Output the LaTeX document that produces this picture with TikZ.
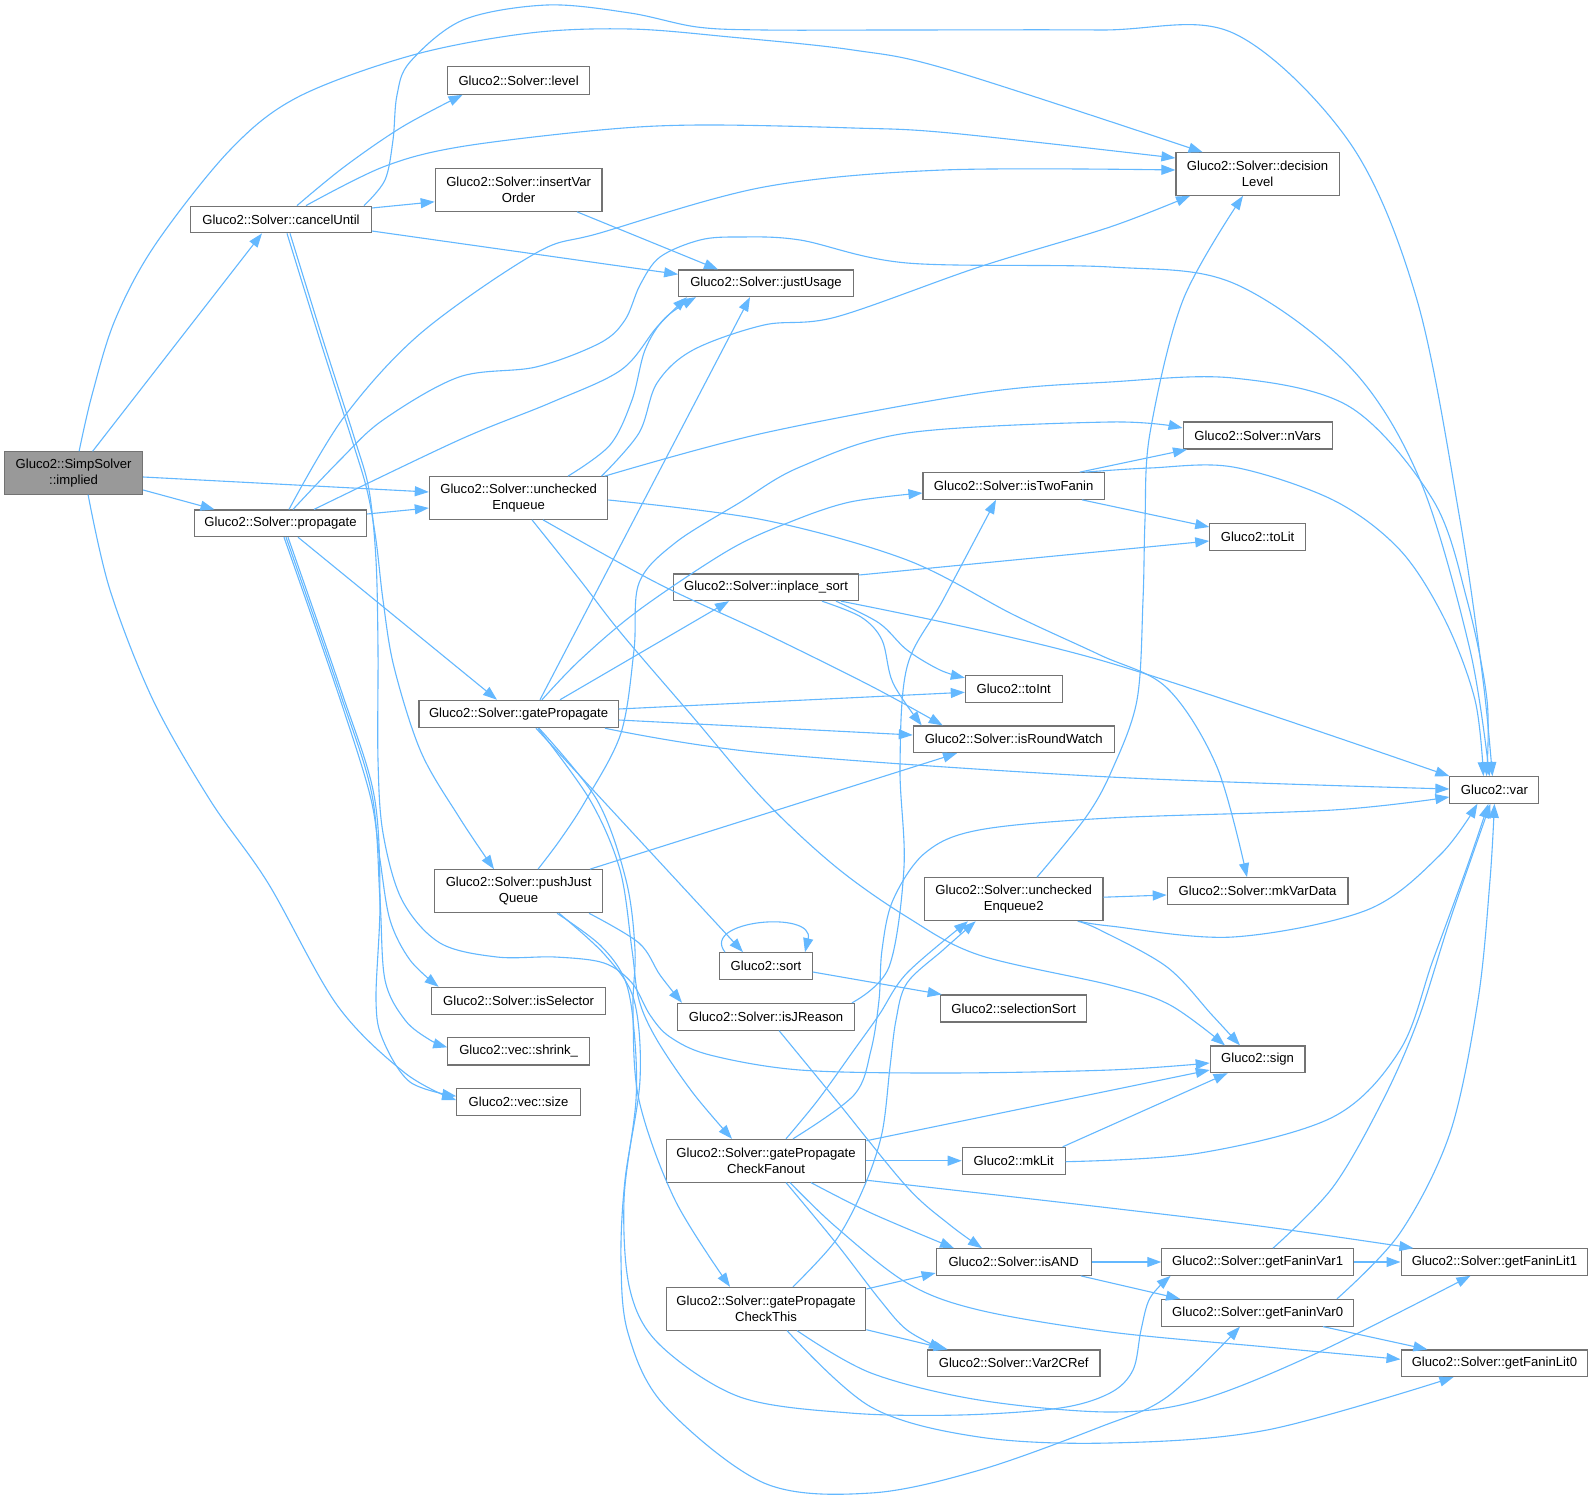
\documentclass[tikz,border=0pt]{standalone}
\usepackage{fontspec}
\setmainfont{Liberation Sans}
\usetikzlibrary{arrows.meta}
\definecolor{edgeblue}{HTML}{63B8FF}
\definecolor{boxgray}{HTML}{737373}
\definecolor{implgray}{HTML}{999999}
\begin{document}
\begin{tikzpicture}[x=1pt,y=-1pt,
  box/.style={draw=boxgray, line width=1.1pt, fill=white, inner sep=0pt, text=black,
    font=\fontsize{13.1}{16}\selectfont, align=center},
  edge/.style={draw=edgeblue, line width=1.1pt, -{Triangle[length=14pt,width=10pt]}, fill=none},
  sm/.style={smooth, tension=0.55}]
\fill[white] (0,0) rectangle (1593,1501);
\useasboundingbox (0,0) rectangle (1593,1501);
% nodes
\node[box, fill=implgray, minimum width=138, minimum height=42.3] (nImp) at (73.6,473) {Gluco2::SimpSolver\\::implied};
\node[box, minimum width=180.6, minimum height=26.7] (nCU) at (281,219.5) {Gluco2::Solver::cancelUntil};
\node[box, minimum width=142.3, minimum height=27.6] (nLev) at (518.6,80.5) {Gluco2::Solver::level};
\node[box, minimum width=166.7, minimum height=43] (nIVO) at (518.6,189.8) {Gluco2::Solver::insertVar\\Order};
\node[box, minimum width=163.3, minimum height=42.6] (nDL) at (1257.6,174) {Gluco2::Solver::decision\\Level};
\node[box, minimum width=174.6, minimum height=26.7] (nJU) at (766,283.3) {Gluco2::Solver::justUsage};
\node[box, minimum width=172.2, minimum height=26.7] (nProp) at (280.5,523.3) {Gluco2::Solver::propagate};
\node[box, minimum width=178.5, minimum height=42.6] (nUE) at (518.6,498) {Gluco2::Solver::unchecked\\Enqueue};
\node[box, minimum width=149, minimum height=27] (nNV) at (1257.6,435.5) {Gluco2::Solver::nVars};
\node[box, minimum width=181.4, minimum height=26.6] (nITF) at (1013.7,486) {Gluco2::Solver::isTwoFanin};
\node[box, minimum width=95.6, minimum height=27] (nTL) at (1257.6,536.8) {Gluco2::toLit};
\node[box, minimum width=185.4, minimum height=26.7] (nIPS) at (766,587.3) {Gluco2::Solver::inplace\_sort};
\node[box, minimum width=96.7, minimum height=27] (nTI) at (1013.7,688.8) {Gluco2::toInt};
\node[box, minimum width=199.2, minimum height=27.4] (nGP) at (518.6,714) {Gluco2::Solver::gatePropagate};
\node[box, minimum width=200.8, minimum height=26.7] (nIRW) at (1013.7,739.3) {Gluco2::Solver::isRoundWatch};
\node[box, minimum width=89, minimum height=26.6] (nVar) at (1494.4,790) {Gluco2::var};
\node[box, minimum width=168.5, minimum height=43] (nPJQ) at (518.6,891.2) {Gluco2::Solver::pushJust\\Queue};
\node[box, minimum width=178.6, minimum height=43] (nUE2) at (1013.7,899.2) {Gluco2::Solver::unchecked\\Enqueue2};
\node[box, minimum width=180.7, minimum height=27] (nMVD) at (1257.6,891.2) {Gluco2::Solver::mkVarData};
\node[box, minimum width=92.5, minimum height=26.6] (nSort) at (766,966) {Gluco2::sort};
\node[box, minimum width=173.7, minimum height=26.7] (nISel) at (518.6,1000.7) {Gluco2::Solver::isSelector};
\node[box, minimum width=177.1, minimum height=26.7] (nIJR) at (766,1016.7) {Gluco2::Solver::isJReason};
\node[box, minimum width=146.1, minimum height=27] (nSelS) at (1013.7,1008.5) {Gluco2::selectionSort};
\node[box, minimum width=141.6, minimum height=27.3] (nShr) at (518.6,1051.3) {Gluco2::vec::shrink\_};
\node[box, minimum width=123.6, minimum height=27] (nSize) at (518.6,1102.2) {Gluco2::vec::size};
\node[box, minimum width=94.7, minimum height=26.7] (nSign) at (1257.6,1059.3) {Gluco2::sign};
\node[box, minimum width=199.7, minimum height=42.7] (nGPCF) at (766,1160.7) {Gluco2::Solver::gatePropagate\\CheckFanout};
\node[box, minimum width=102.9, minimum height=26.7] (nMkL) at (1013.7,1160.7) {Gluco2::mkLit};
\node[box, minimum width=155, minimum height=26.6] (nAND) at (1013.7,1262) {Gluco2::Solver::isAND};
\node[box, minimum width=191.6, minimum height=26.6] (nFV1) at (1257.6,1262) {Gluco2::Solver::getFaninVar1};
\node[box, minimum width=186.7, minimum height=26.6] (nFL1) at (1494.4,1262) {Gluco2::Solver::getFaninLit1};
\node[box, minimum width=199.7, minimum height=42.7] (nGPCT) at (766,1308.7) {Gluco2::Solver::gatePropagate\\CheckThis};
\node[box, minimum width=191.6, minimum height=26.7] (nFV0) at (1257.6,1312.7) {Gluco2::Solver::getFaninVar0};
\node[box, minimum width=172.5, minimum height=26.7] (nV2C) at (1013.7,1363.3) {Gluco2::Solver::Var2CRef};
\node[box, minimum width=186.7, minimum height=26.7] (nFL0) at (1494.4,1363.3) {Gluco2::Solver::getFaninLit0};
% edges: implied
\draw[edge] ([xshift=19]nImp.north) -- ([xshift=-19]nCU.south);
\draw[edge] plot[sm] coordinates {([xshift=5.5]nImp.north) (92,395) (115,320) (155,245) (230,150) (298,97) (413,55) (530,33) (630,29) (730,37) (853,50) (950,70) ([xshift=-55]nDL.north)};
\draw[edge] ([yshift=-4]nImp.east) -- ([yshift=6]nUE.west);
\draw[edge] ([yshift=-17]nImp.east) -- ([xshift=-66]nProp.north);
\draw[edge] plot[sm] coordinates {([xshift=14.5]nImp.south) (110,590) (153,700) (210,800) (268,883) (337,1005) (405,1073) ([yshift=2]nSize.west)};
% cancelUntil
\draw[edge] plot[sm] coordinates {([xshift=16]nCU.north) (344,167) (402,127) ([xshift=-56]nLev.south)};
\draw[edge] plot[sm] coordinates {([xshift=25]nCU.north) (383,167) (459,147) (600,130) (700,125) (853,128) (950,133) ([yshift=16]nDL.west)};
\draw[edge] plot[sm] coordinates {([xshift=83]nCU.north) (385,180) (393,140) (397,95) (410,62) (463,20) (547,5) (630,13) (697,27) (764,30) (900,30) (1100,30) (1233,33) (1350,143) (1417,300) (1460,520) (1483,680) ([xshift=-2]nVar.north)};
\draw[edge] ([yshift=11.5]nCU.east) -- ([yshift=-12]nIVO.west);
\draw[edge] ([yshift=-11.5]nCU.east) -- ([yshift=9]nJU.west);
\draw[edge] plot[sm] coordinates {([xshift=6]nCU.south) (320,340) (352,440) (367,490) (376,540) (383,600) (394,667) (421,752) (459,817) ([xshift=-24.6]nPJQ.north)};
\draw[edge] plot[sm] coordinates {([xshift=9]nCU.south) (323,340) (355,440) (369,490) (376,560) (378,650) (378,760) (383,833) (402,900) (440,943) (497,957) (555,957) (604,963) (632,983) (650,1015) (670,1037) (710,1055) (800,1070) (943,1073) (1110,1070) ([yshift=-3.7]nSign.west)};
% insertVarOrder
\draw[edge] ([xshift=58.4]nIVO.south) -- ([xshift=-48]nJU.north);
% propagate
\draw[edge] plot[sm] coordinates {([xshift=8.5]nProp.north) (344,417) (421,333) (536,253) (600,233) (764,187) (943,170) ([yshift=4]nDL.west)};
\draw[edge] plot[sm] coordinates {([xshift=12.5]nProp.north) (340,460) (383,420) (459,377) (536,367) (600,343) (625,320) (640,285) (660,257) (700,240) (739,237) (800,240) (907,263) (1110,267) (1233,283) (1350,367) (1420,480) (1470,650) ([xshift=-5]nVar.north)};
\draw[edge] plot[sm] coordinates {([xshift=33.5]nProp.north) (459,440) (550,403) (621,370) (657,327) ([xshift=-79]nJU.south)};
\draw[edge] ([yshift=9.3]nProp.east) -- ([yshift=-10]nUE.west);
\draw[edge] ([xshift=17.5]nProp.south) -- ([xshift=-21.6]nGP.north);
\draw[edge] plot[sm] coordinates {([xshift=3.5]nProp.south) (337,690) (370,795) (380,860) (390,920) (410,960) ([xshift=-80]nISel.north)};
\draw[edge] plot[sm] coordinates {([xshift=5.5]nProp.south) (339,690) (372,795) (380,900) (385,980) (405,1020) (430,1040) ([yshift=4]nShr.west)};
\draw[edge] plot[sm] coordinates {([xshift=7.5]nProp.south) (341,690) (374,795) (380,900) (376,1000) (383,1040) (410,1082) ([yshift=6]nSize.west)};
% uncheckedEnqueue
\draw[edge] plot[sm] coordinates {([xshift=49.4]nUE.north) (610,445) (632,400) (645,350) (665,318) ([xshift=-70]nJU.south)};
\draw[edge] plot[sm] coordinates {([xshift=83]nUE.north) (639,433) (657,383) (693,350) (764,325) (836,317) (979,267) (1110,227) ([xshift=-67.6]nDL.south)};
\draw[edge] plot[sm] coordinates {([xshift=86]nUE.north) (764,433) (979,393) (1110,382) (1233,378) (1350,407) (1433,500) (1467,600) (1487,700) ([xshift=-8]nVar.north)};
\draw[edge] plot[sm] coordinates {([yshift=-2]nUE.east) (764,520) (907,560) (1014,615) (1100,655) (1167,688) (1217,767) ([xshift=-10.6]nMVD.north)};
\draw[edge] plot[sm] coordinates {([xshift=24.4]nUE.south) (657,583) (764,633) (871,686) ([xshift=-71]nIRW.north)};
\draw[edge] plot[sm] coordinates {([xshift=13.4]nUE.south) (580,580) (621,633) (693,717) (764,800) (836,867) (907,917) (979,955) (1110,985) (1170,1005) ([xshift=-32.6]nSign.north)};
% gatePropagate
\draw[edge] ([xshift=21.4]nGP.north) -- ([xshift=-16]nJU.south);
\draw[edge] plot[sm] coordinates {([xshift=23.4]nGP.north) (580,660) (639,610) (729,550) (790,522) (850,502) ([yshift=-7]nITF.west)};
\draw[edge] ([xshift=41.4]nGP.north) -- ([xshift=-37]nIPS.south);
\draw[edge] ([yshift=5]nGP.east) -- ([yshift=-3.5]nTI.west);
\draw[edge] ([yshift=-6]nGP.east) -- ([yshift=4.3]nIRW.west);
\draw[edge] plot[sm] coordinates {([xshift=86.4]nGP.south) (764,753) (1110,777) ([yshift=1]nVar.west)};
\draw[edge] ([xshift=17.4]nGP.south) -- ([xshift=-23]nSort.north);
\draw[edge] plot[sm] coordinates {([xshift=19.4]nGP.south) (590,800) (620,870) (632,950) (639,1000) (657,1040) (693,1093) ([xshift=-34]nGPCF.north)};
\draw[edge] plot[sm] coordinates {([xshift=20.4]nGP.south) (597,800) (626,880) (635,950) (633,1010) (639,1100) (675,1200) ([xshift=-36]nGPCT.north)};
% pushJustQueue
\draw[edge] plot[sm] coordinates {([xshift=19.4]nPJQ.north) (560,840) (586,800) (621,733) (634,650) (639,583) (675,543) (739,503) (800,467) (907,433) (1110,422) ([yshift=7.5]nNV.west)};
\draw[edge] ([xshift=71.4]nPJQ.north) -- ([xshift=-56.7]nIRW.south);
\draw[edge] plot[sm] coordinates {([xshift=70.4]nPJQ.south) (639,943) (660,975) ([xshift=-84]nIJR.north)};
\draw[edge] plot[sm] coordinates {([xshift=38.4]nPJQ.south) (600,945) (625,980) (634,1030) (636,1100) (624,1200) (630,1290) (660,1345) (740,1397) (850,1413) (960,1415) (1060,1408) (1110,1393) (1133,1370) (1141,1330) (1150,1298) ([xshift=-87]nFV1.south)};
\draw[edge] plot[sm] coordinates {([xshift=40.4]nPJQ.south) (605,955) (634,1000) (640,1080) (625,1180) (621,1260) (628,1333) (664,1405) (764,1483) (871,1493) (980,1470) (1100,1427) (1167,1397) ([xshift=-17.6]nFV0.south)};
% isTwoFanin
\draw[edge] ([xshift=66]nITF.north) -- ([xshift=-70.6]nNV.south);
\draw[edge] plot[sm] coordinates {([xshift=71]nITF.north) (1150,468) (1233,467) (1333,500) (1400,550) (1445,620) (1475,700) ([xshift=-11]nVar.north)};
\draw[edge] ([xshift=68.3]nITF.south) -- ([yshift=9.8]nTL.west);
% inplace_sort
\draw[edge] ([yshift=12.3]nIPS.east) -- ([yshift=-4.2]nTL.west);
\draw[edge] plot[sm] coordinates {([xshift=70]nIPS.south) (879,623) (907,650) (940,670) ([yshift=11]nTI.west)};
\draw[edge] plot[sm] coordinates {([xshift=56]nIPS.south) (861,617) (882,640) (893,683) ([xshift=-92]nIRW.north)};
\draw[edge] plot[sm] coordinates {([xshift=75]nIPS.south) (1100,660) (nVar.north west)};
% uncheckedEnqueue2
\draw[edge] plot[sm] coordinates {([xshift=23.3]nUE2.north) (1086,817) (1112,770) (1137,700) (1143,600) (1145,520) (1150,433) (1183,300) ([xshift=-14.6]nDL.south)};
\draw[edge] ([yshift=2]nUE2.east) -- ([yshift=-3.8]nMVD.west);
\draw[edge] plot[sm] coordinates {([xshift=66]nUE2.south) (1110,926) (1233,937) (1367,910) (1440,855) ([xshift=-17]nVar.south)};
\draw[edge] plot[sm] coordinates {([xshift=64]nUE2.south) (1100,930) (1167,967) (1212,1015) ([xshift=-17.6]nSign.north)};
% sort
\draw[edge] ([xshift=-41]nSort.north) .. controls (700,920) and (815,910) .. ([xshift=39]nSort.north);
\draw[edge] ([yshift=-6]nSort.east) -- ([xshift=-72]nSelS.north);
% isJReason
\draw[edge] plot[sm] coordinates {([xshift=86]nIJR.north) (889,967) (904,867) (900,767) (907,667) (943,600) ([xshift=-17.7]nITF.south)};
\draw[edge] plot[sm] coordinates {([xshift=13]nIJR.south) (836,1100) (907,1187) (950,1225) ([xshift=-31.7]nAND.north)};
% gatePropagateCheckFanout
\draw[edge] plot[sm] coordinates {([xshift=20]nGPCF.north) (818,1100) (854,1050) (879,1015) (907,973) ([xshift=-45.7]nUE2.south)};
\draw[edge] plot[sm] coordinates {([xshift=27]nGPCF.north) (854,1095) (871,1050) (879,1000) (882,950) (893,900) (925,853) (979,830) (1110,818) (1333,810) ([yshift=-7]nVar.west)};
\draw[edge] ([yshift=20]nGPCF.east) -- ([yshift=-10.7]nSign.west);
\draw[edge] (nGPCF.east) -- (nMkL.west);
\draw[edge] plot[sm] coordinates {([yshift=-19.5]nGPCF.east) (1110,1208) (1267,1227) ([xshift=-81]nFL1.north)};
\draw[edge] plot[sm] coordinates {([xshift=45]nGPCF.south) (871,1213) ([xshift=-59.7]nAND.north)};
\draw[edge] plot[sm] coordinates {([xshift=20]nGPCF.south) (836,1243) (880,1300) (907,1330) ([xshift=-70.7]nV2C.north)};
\draw[edge] plot[sm] coordinates {([xshift=24]nGPCF.south) (836,1227) (907,1283) (979,1310) (1110,1332) (1267,1347) ([yshift=4]nFL0.west)};
% mkLit
\draw[edge] ([xshift=49]nMkL.north) -- ([xshift=-30]nSign.south);
\draw[edge] plot[sm] coordinates {([yshift=-1]nMkL.east) (1200,1153) (1333,1117) (1400,1050) (1433,960) (1467,867) ([xshift=-6]nVar.south)};
% isAND
\draw[edge] (nAND.east) -- (nFV1.west);
\draw[edge] ([xshift=67]nAND.south) -- ([xshift=-77.6]nFV0.north);
% gatePropagateCheckThis
\draw[edge] plot[sm] coordinates {([xshift=27]nGPCT.north) (836,1240) (864,1187) (882,1133) (890,1067) (896,1020) (907,983) (943,950) ([xshift=-38]nUE2.south)};
\draw[edge] ([yshift=19.7]nGPCT.east) -- ([yshift=-11]nAND.west);
\draw[edge] ([yshift=-21]nGPCT.east) -- ([xshift=-66]nV2C.north);
\draw[edge] plot[sm] coordinates {([xshift=31]nGPCT.south) (871,1373) (979,1400) (1110,1412) (1200,1400) (1317,1353) ([xshift=-24]nFL1.south)};
\draw[edge] plot[sm] coordinates {([xshift=21]nGPCT.south) (871,1407) (979,1437) (1110,1443) (1267,1430) ([xshift=-41]nFL0.south)};
% getFaninVar1 / 0
\draw[edge] (nFV1.east) -- (nFL1.west);
\draw[edge] plot[sm] coordinates {([xshift=15.4]nFV1.north) (1333,1187) (1383,1100) (1418,1020) (1450,920) ([xshift=-4]nVar.south)};
\draw[edge] ([xshift=65.4]nFV0.south) -- ([xshift=-67]nFL0.north);
\draw[edge] plot[sm] coordinates {([xshift=79.4]nFV0.north) (1400,1233) (1450,1133) (1478,1000) (1490,880) (nVar.south)};
\end{tikzpicture}
\end{document}
